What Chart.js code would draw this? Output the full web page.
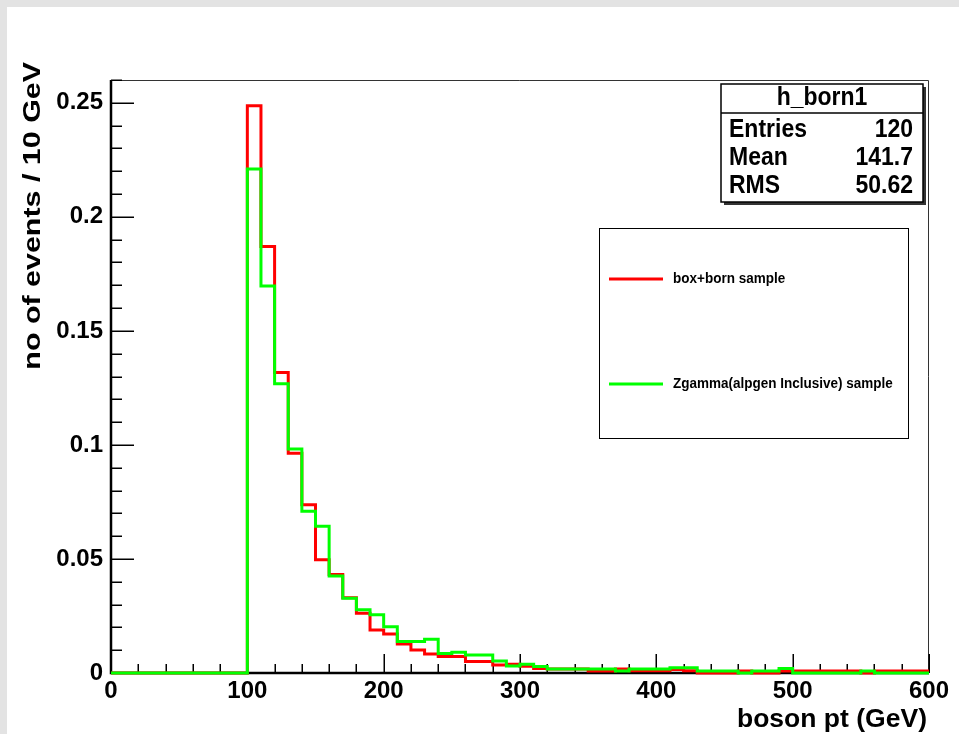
<!DOCTYPE html>
<html>
<head>
<meta charset="utf-8">
<title>h_born1 - boson pt</title>
<script src="https://cdn.jsdelivr.net/npm/chart.js@4.4.1/dist/chart.umd.min.js"></script>
<style>
  html, body { margin: 0; padding: 0; background: #fff; }
  canvas { display: block; }
</style>
</head>
<body>
<canvas id="h_born1" width="959" height="734"></canvas>
<script>
// 10 GeV bins, 0 - 600 GeV, normalised to unit area
const binWidth = 10;

const boxBorn = [
  0, 0, 0, 0, 0, 0, 0, 0, 0, 0,
  0.2487, 0.1870, 0.1317, 0.0963, 0.0738, 0.0496, 0.0432, 0.0330, 0.0262, 0.0189,
  0.0171, 0.0127, 0.0101, 0.0083, 0.0072, 0.0072, 0.0050, 0.0050, 0.0035, 0.0038,
  0.0030, 0.0020, 0.0018, 0.0018, 0.0018, 0.0009, 0.0009, 0.0018, 0.0010, 0.0010,
  0.0010, 0.0015, 0.0010, 0, 0, 0, 0.0009, 0, 0, 0.0009,
  0.0009, 0.0009, 0.0009, 0.0009, 0.0009, 0, 0.0009, 0.0009, 0.0009, 0.0009
];

const zgamma = [
  0, 0, 0, 0, 0, 0, 0, 0, 0, 0,
  0.2210, 0.1697, 0.1268, 0.0982, 0.0709, 0.0643, 0.0425, 0.0328, 0.0277, 0.0255,
  0.0203, 0.0138, 0.0138, 0.0148, 0.0086, 0.0091, 0.0079, 0.0079, 0.0053, 0.0031,
  0.0038, 0.0028, 0.0018, 0.0018, 0.0018, 0.0018, 0.0018, 0.0009, 0.0018, 0.0018,
  0.0018, 0.0023, 0.0023, 0.0009, 0.0009, 0.0009, 0, 0.0009, 0.0009, 0.0020,
  0, 0, 0, 0, 0, 0.0009, 0, 0, 0, 0
];

const seriesNames = ['box+born sample', 'Zgamma(alpgen Inclusive) sample'];
const seriesColors = ['#ff0000', '#00ff00'];

const statsTitle = 'h_born1';
const statsRows = [
  ['Entries', '120'],
  ['Mean', '141.7'],
  ['RMS', '50.62']
];

const xTitle = 'boson pt (GeV)';
const yTitle = 'no of events / 10 GeV';

const FONT = 'Liberation Sans, Arial, sans-serif';
Chart.defaults.font.family = FONT;

// histogram outline: one point per low bin edge plus the upper edge of the last bin
function steps(values) {
  const pts = values.map((v, i) => ({ x: i * binWidth, y: v }));
  pts.push({ x: values.length * binWidth, y: values[values.length - 1] });
  return pts;
}

function line(c, x1, y1, x2, y2) {
  c.beginPath();
  c.moveTo(x1, y1);
  c.lineTo(x2, y2);
  c.stroke();
}

// text a little taller than the plain font, like the ROOT output
function text(c, str, x, y, align, sx, sy) {
  c.save();
  c.translate(x, y);
  c.scale(sx || 1, sy || 1.12);
  c.textAlign = align;
  c.textBaseline = 'middle';
  c.fillText(str, 0, 0);
  c.restore();
}

const rootFrame = {
  id: 'rootFrame',
  beforeDraw(chart) {
    const c = chart.ctx;
    c.save();
    c.fillStyle = '#ffffff';
    c.fillRect(0, 0, chart.width, chart.height);
    c.fillStyle = '#e3e3e3';
    c.fillRect(0, 0, chart.width, 7);
    c.fillRect(0, 0, 7, chart.height);
    c.restore();
  },
  beforeDatasetsDraw(chart) {
    const { ctx: c, chartArea: a, scales: { x, y } } = chart;
    c.save();
    // top / right frame
    c.strokeStyle = '#333';
    c.lineWidth = 1;
    c.beginPath();
    c.moveTo(a.left, a.top + 0.5);
    c.lineTo(a.right - 0.5, a.top + 0.5);
    c.lineTo(a.right - 0.5, a.bottom);
    c.stroke();
    // ticks drawn inside the frame
    c.strokeStyle = '#000';
    c.lineWidth = 1.5;
    for (let i = 0; i <= 26; i++) {
      const py = Math.round(y.getPixelForValue(i * 0.01)) + 0.25;
      line(c, a.left, py, a.left + (i % 5 === 0 ? 23 : 11), py);
    }
    for (let i = 0; i <= 30; i++) {
      const px = Math.round(x.getPixelForValue(i * 20)) + 0.25;
      line(c, px, a.bottom, px, a.bottom - (i % 5 === 0 ? 19 : 9));
    }
    // axes
    c.lineWidth = 2.5;
    c.beginPath();
    c.moveTo(a.left, a.top);
    c.lineTo(a.left, a.bottom);
    c.lineTo(a.right, a.bottom);
    c.stroke();
    c.restore();
  },
  afterDatasetsDraw(chart) {
    const c = chart.ctx;
    c.save();

    // stats box
    const sx = 721, sy = 84, sw = 202, sh = 118;
    c.fillStyle = '#333';
    c.fillRect(sx + 3, sy + 3, sw, sh);
    c.fillStyle = '#fff';
    c.fillRect(sx, sy, sw, sh);
    c.strokeStyle = '#000';
    c.lineWidth = 1.5;
    c.strokeRect(sx, sy, sw, sh);
    line(c, sx, 113, sx + sw, 113);
    c.fillStyle = '#000';
    c.font = 'bold 23px ' + FONT;
    text(c, statsTitle, sx + sw / 2, 98, 'center');
    statsRows.forEach((r, i) => {
      const ty = 130 + i * 28;
      text(c, r[0], 729, ty, 'left');
      text(c, r[1], 913, ty, 'right');
    });

    // legend
    c.fillStyle = '#fff';
    c.fillRect(599.5, 228.5, 309, 210);
    c.lineWidth = 1;
    c.strokeRect(599.5, 228.5, 309, 210);
    c.font = 'bold 13.5px ' + FONT;
    chart.data.datasets.forEach((ds, i) => {
      const ly = [279, 384][i];
      c.strokeStyle = ds.borderColor;
      c.lineWidth = 3;
      line(c, 609, ly, 663, ly);
      c.fillStyle = '#000';
      text(c, ds.label, 673, ly, 'left', 1, 1.05);
    });

    // axis titles
    c.fillStyle = '#000';
    c.font = 'bold 26px ' + FONT;
    text(c, xTitle, 927, 720, 'right', 1.02, 1.0);
    c.translate(33, 62);
    c.rotate(-Math.PI / 2);
    text(c, yTitle, 0, 0, 'right', 1.17, 0.95);
    c.restore();
  }
};

new Chart(document.getElementById('h_born1'), {
  type: 'line',
  data: {
    datasets: [
      {
        label: seriesNames[0],
        data: steps(boxBorn),
        borderColor: seriesColors[0],
        order: 2
      },
      {
        label: seriesNames[1],
        data: steps(zgamma),
        borderColor: seriesColors[1],
        order: 1
      }
    ]
  },
  options: {
    responsive: false,
    animation: false,
    events: [],
    parsing: false,
    layout: { padding: { top: 80, right: 30, left: 0, bottom: 0 } },
    elements: {
      point: { radius: 0 },
      line: {
        stepped: 'before',
        borderWidth: 3,
        fill: false,
        borderJoinStyle: 'miter',
        borderCapStyle: 'butt'
      }
    },
    datasets: { line: { clip: false } },
    plugins: {
      legend: { display: false },
      tooltip: { enabled: false }
    },
    scales: {
      x: {
        type: 'linear',
        min: 0,
        max: 600,
        grid: { display: false, drawTicks: false, tickLength: 0 },
        border: { display: false },
        afterFit: s => { s.height = 61; },
        ticks: {
          stepSize: 100,
          padding: 4,
          color: '#000',
          maxRotation: 0,
          font: { size: 24, weight: 'bold' },
          callback: v => String(v)
        }
      },
      y: {
        type: 'linear',
        min: 0,
        max: 0.26,
        grid: { display: false, drawTicks: false, tickLength: 0 },
        border: { display: false },
        afterFit: s => { s.width = 111; },
        ticks: {
          stepSize: 0.05,
          includeBounds: false,
          padding: 8,
          color: '#000',
          font: { size: 24, weight: 'bold' },
          callback: v => String(+v.toFixed(2))
        }
      }
    }
  },
  plugins: [rootFrame]
});
</script>
</body>
</html>
